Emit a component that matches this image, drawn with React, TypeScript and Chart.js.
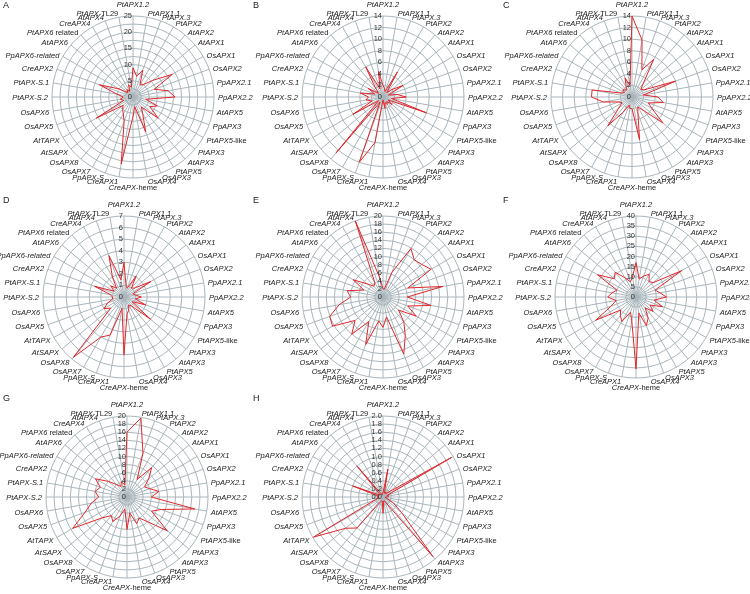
import React, { useEffect, useRef } from "react";
import { Chart, registerables } from "chart.js";

Chart.register(...registerables);

const labels = [
  "PtAPX1.2", "PtAPX1.1", "PtAPX.3", "PtAPX2", "AtAPX2", "AtAPX1", "OsAPX1", "OsAPX2",
  "PpAPX2.1", "PpAPX2.2", "AtAPX5", "PpAPX3", "PtAPX5-like", "PtAPX3", "AtAPX3", "PtAPX5",
  "OsAPX3", "OsAPX4", "CreAPX-heme", "CreAPX1", "PpAPX-S", "OsAPX7", "OsAPX8", "AtSAPX",
  "AtTAPX", "OsAPX5", "OsAPX6", "PtAPX-S.2", "PtAPX-S.1", "CreAPX2", "PpAPX6-related", "AtAPX6",
  "PtAPX6 related", "CreAPX4", "AtAPX4", "PtAPX-TL29",
];
// parts of some labels that are set upright (the rest is italic)
const uprightSuffixes = [" related", "-like", "-TL29", "-heme"];

const panelLetters = ["A", "B", "C", "D", "E", "F", "G", "H"];
const axisMax = [25, 14, 14, 7, 20, 40, 20, 2];
const axisStep = [2.5, 2, 2, 1, 2, 5, 2, 0.2];
const labelEvery = [5, 2, 2, 1, 2, 5, 2, 0.2];

const valuesA = [9, 6.5, 8.8, 4.3, 5, 8, 14, 7, 11, 13, 4, 8, 6, 10.2, 4, 6, 11.5, 3, 6, 21, 8, 6, 5, 4, 13.1, 3, 4, 3, 5, 11, 5, 2, 3, 2, 4, 3];
const valuesB = [2, 1.5, 1, 5, 1, 2, 4, 1, 2.5, 4, 1.5, 8, 1, 2, 1, 1.5, 1, 2, 0.5, 8, 12, 1, 12.6, 1, 6, 2, 3, 2.5, 4, 1.5, 3, 1, 2, 6, 1.5, 4.5];
const valuesC = [14, 10, 5, 7.5, 3, 2, 2.5, 8, 2, 4.5, 5.5, 3, 4, 7, 3, 2, 3, 7.5, 2, 2, 1.5, 3, 6.5, 3, 2, 2.5, 5, 7, 7, 2, 1.5, 2, 1.5, 2, 3.5, 2];
const valuesD = [3, 1, 0.8, 2.1, 1, 1.2, 2.7, 0.8, 1, 1.5, 1, 2, 0.8, 3, 1, 0.8, 1.2, 1.5, 5, 1, 3.5, 4, 6.8, 1.5, 2, 1.5, 1, 1, 1.2, 2.7, 1, 1.5, 1, 2, 3.8, 1.5];
const valuesE = [2, 2, 6.5, 13.8, 12, 12.5, 13.7, 6.5, 15, 6, 12, 6.5, 9.5, 5, 8, 11, 15, 5, 7.5, 6, 12.5, 7, 12, 9, 14.4, 14, 11, 8, 9, 5, 8.5, 5, 3.5, 4, 20, 5];
const valuesF = [17, 9, 11, 13, 10, 11, 26, 10, 12, 15, 9, 14, 8, 11, 7, 12, 15, 8, 35.5, 12, 8, 14, 12, 10, 23, 13, 10, 14, 12, 10, 22, 14, 16, 11, 8, 10];
const valuesG = [16, 19.8, 11.5, 5, 9.5, 7, 5, 6, 8, 6, 17, 9, 7, 13, 8, 6, 7, 4, 8, 3, 5, 7, 6, 8, 15.5, 11, 9, 7, 8, 7, 9, 6, 4, 3, 4, 3];
const valuesH = [0.1, 0.7, 0.1, 0.15, 0.1, 0.2, 1.95, 0.1, 0.15, 0.1, 0.05, 0.1, 0.3, 0.6, 1.92, 0.2, 0.1, 0.1, 0.4, 0.1, 0.1, 0.15, 1.0, 1.2, 1.98, 0.2, 0.1, 0.15, 0.1, 0.8, 0.1, 0.1, 1.0, 0.1, 0.05, 0.1];

const allValues = [valuesA, valuesB, valuesC, valuesD, valuesE, valuesF, valuesG, valuesH];

// panel centres in the page
const centers: [number, number][] = [
  [133, 97], [383, 97], [632, 97],
  [124, 297], [383, 297], [636, 297],
  [127, 497], [383, 497],
];

const CW = 300;
const CH = 200;
const AREA = 162; // chart area side -> radius 81
const PADX = (CW - AREA) / 2;
const PADY = (CH - AREA) / 2;
const GRID = "#a9b5bb";
const FONT = '"Liberation Sans", Arial, sans-serif';
const ITALIC = `italic 7.5px ${FONT}`;
const UPRIGHT = `7.5px ${FONT}`;

const tickPlugin = {
  id: "tickText",
  afterDatasetsDraw(chart: any) {
    const s = chart.scales.r;
    const ctx = chart.ctx;
    ctx.save();
    ctx.font = UPRIGHT;
    ctx.fillStyle = "#333";
    ctx.textAlign = "right";
    ctx.textBaseline = "middle";
    s.ticks.forEach((t: any) => {
      if (!t.label) return;
      const d = s.getDistanceFromCenterForValue(t.value);
      ctx.fillText(t.label, s.xCenter - 1, s.yCenter - d);
    });
    ctx.restore();
  },
};

function splitLabel(lab: string): [string, string] {
  for (const suf of uprightSuffixes) {
    if (lab.endsWith(suf) && lab !== "PpAPX6-related") {
      return [lab.slice(0, lab.length - suf.length), suf];
    }
  }
  return [lab, ""];
}

const labelPlugin = {
  id: "pointText",
  afterDraw(chart: any) {
    const s = chart.scales.r;
    const ctx = chart.ctx;
    const n = chart.data.labels.length;
    ctx.save();
    ctx.fillStyle = "#222";
    chart.data.labels.forEach((lab: string, i: number) => {
      const deg = (i * 360) / n;
      const [ita, up] = splitLabel(lab);
      ctx.font = ITALIC;
      const w1 = ctx.measureText(ita).width;
      ctx.font = UPRIGHT;
      const w2 = up ? ctx.measureText(up).width : 0;
      const w = w1 + w2;
      let x: number;
      let y: number;
      if (deg === 0) {
        const p = s.getPointPosition(i, s.drawingArea + 7);
        ctx.textBaseline = "bottom";
        x = p.x - w / 2;
        y = p.y;
      } else if (deg === 180) {
        const p = s.getPointPosition(i, s.drawingArea + 6);
        ctx.textBaseline = "top";
        x = p.x - w / 2;
        y = p.y;
      } else {
        const p = s.getPointPosition(i, s.drawingArea + 4);
        ctx.textBaseline = "middle";
        x = deg < 180 ? p.x : p.x - w;
        y = p.y + 1;
      }
      ctx.textAlign = "left";
      ctx.font = ITALIC;
      ctx.fillText(ita, x, y);
      if (up) {
        ctx.font = UPRIGHT;
        ctx.fillText(up, x + w1, y);
      }
    });
    ctx.restore();
  },
};

function RadarPanel({ idx }: { idx: number }) {
  const ref = useRef<HTMLCanvasElement>(null);
  useEffect(() => {
    if (!ref.current) return;
    const every = labelEvery[idx];
    const isH = idx === 7;
    const chart = new Chart(ref.current, {
      type: "radar",
      data: {
        labels,
        datasets: [
          {
            data: allValues[idx],
            borderColor: "#e2262a",
            borderWidth: 1,
            fill: false,
            pointRadius: 0,
            pointHoverRadius: 0,
            tension: 0,
          },
        ],
      },
      options: {
        animation: false,
        responsive: false,
        events: [],
        devicePixelRatio: 1,
        layout: { padding: { left: PADX, right: PADX, top: PADY, bottom: PADY } },
        plugins: { legend: { display: false }, tooltip: { enabled: false } },
        scales: {
          r: {
            min: 0,
            max: axisMax[idx],
            beginAtZero: true,
            ticks: {
              display: false,
              stepSize: axisStep[idx],
              callback: (v: any) => {
                const num = Number(v);
                const q = num / every;
                if (Math.abs(q - Math.round(q)) > 1e-6) return "";
                return isH ? num.toFixed(1) : String(Math.round(num * 100) / 100);
              },
            },
            grid: { circular: true, color: GRID, lineWidth: 1 },
            angleLines: { color: GRID, lineWidth: 1 },
            pointLabels: { display: false },
          },
        },
      } as any,
      plugins: [tickPlugin, labelPlugin],
    });
    return () => chart.destroy();
  }, [idx]);
  const [cx, cy] = centers[idx];
  return (
    <canvas
      ref={ref}
      width={CW}
      height={CH}
      style={{ position: "absolute", left: cx - CW / 2, top: cy - CH / 2, width: CW, height: CH }}
    />
  );
}

const letterPos: [number, number][] = [
  [3, 1], [253, 1], [503, 1],
  [3, 196], [253, 196], [503, 196],
  [3, 394], [253, 394],
];

export default function App() {
  return (
    <div
      style={{
        position: "fixed",
        left: 0,
        top: 0,
        width: 750,
        height: 594,
        background: "#fff",
        overflow: "hidden",
      }}
    >
      {panelLetters.map((_, i) => (
        <RadarPanel key={i} idx={i} />
      ))}
      {panelLetters.map((l, i) => (
        <div
          key={"l" + i}
          style={{
            position: "absolute",
            left: letterPos[i][0],
            top: letterPos[i][1],
            fontFamily: FONT,
            fontSize: 9,
            lineHeight: "9px",
            color: "#222",
          }}
        >
          {l}
        </div>
      ))}
    </div>
  );
}
